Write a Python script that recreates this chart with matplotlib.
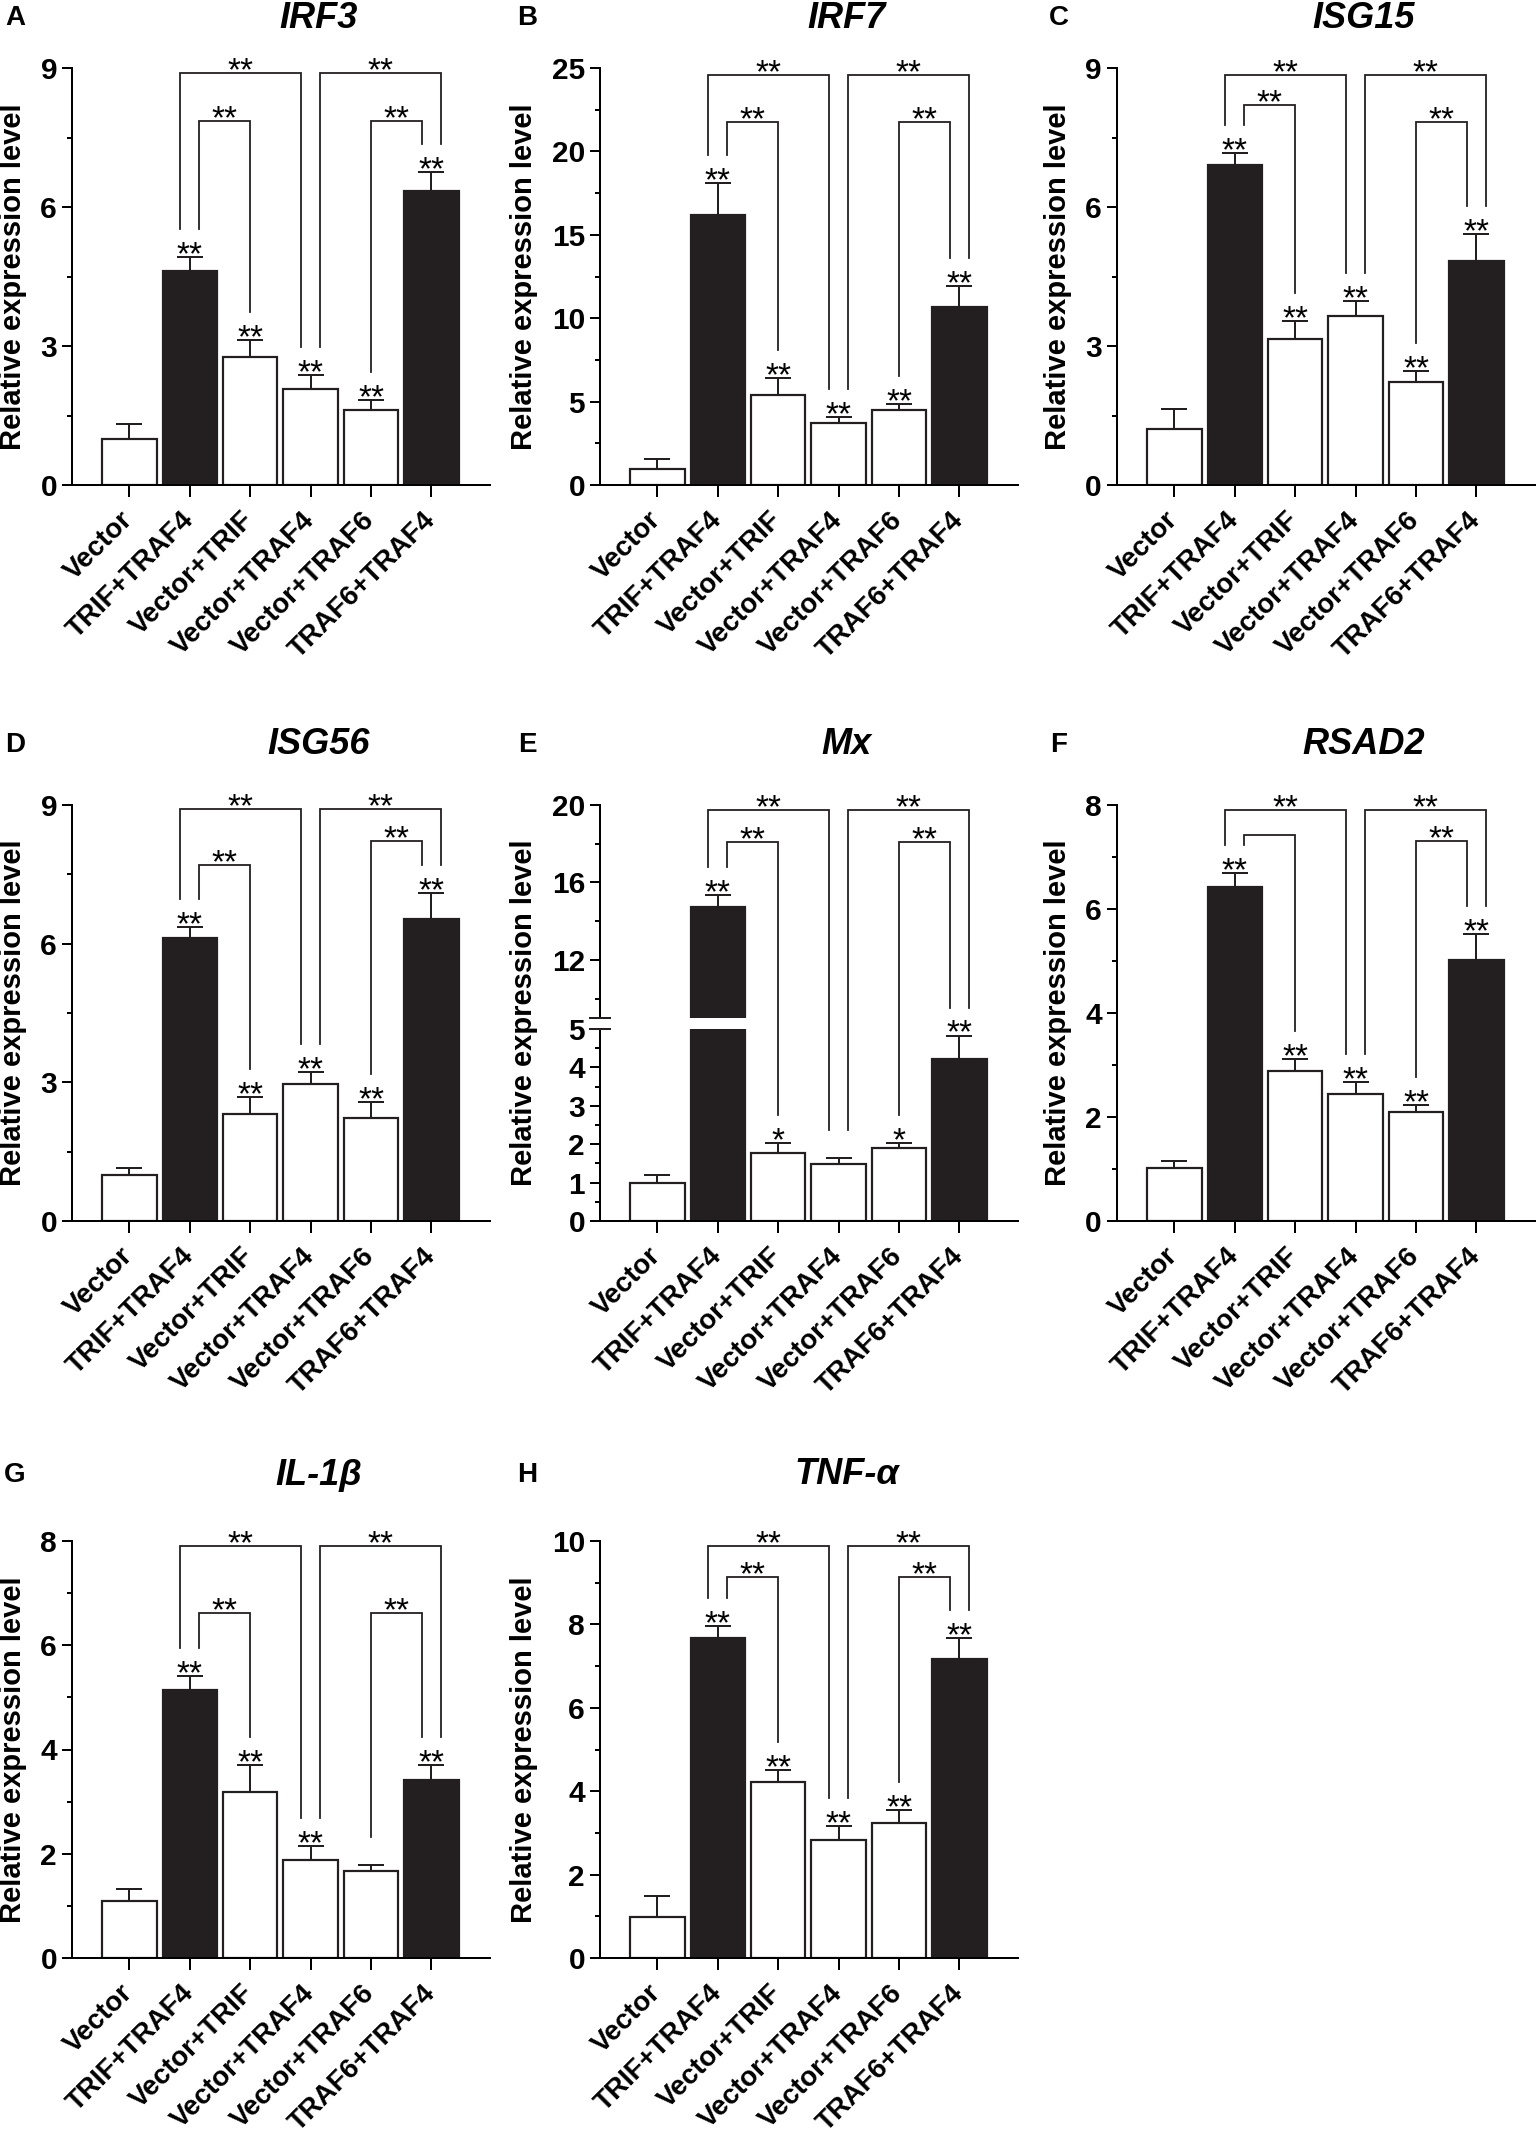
import numpy as np
import matplotlib
matplotlib.use('Agg')
import matplotlib.pyplot as plt
from matplotlib.transforms import blended_transform_factory, IdentityTransform, ScaledTranslation
from matplotlib.lines import Line2D
from matplotlib.ticker import MultipleLocator, FixedLocator
from matplotlib.textpath import TextPath
from matplotlib.font_manager import FontProperties

plt.rcParams['font.family'] = ['Liberation Sans', 'DejaVu Sans']

# ---------------- data ----------------
categories = ['Vector', 'TRIF+TRAF4', 'Vector+TRIF', 'Vector+TRAF4', 'Vector+TRAF6', 'TRAF6+TRAF4']

irf3_mean = [1.00, 4.62, 2.76, 2.07, 1.62, 6.35]
irf3_err = [0.32, 0.30, 0.36, 0.30, 0.21, 0.41]
irf3_stars = ['', '**', '**', '**', '**', '**']
irf3_levels = [8.89, 7.85, 7.85]          # outer, inner-left, inner-right bracket heights
irf3_blabels = ['**', '**', '**', '**']    # outer-left, outer-right, inner-left, inner-right

irf7_mean = [0.95, 16.2, 5.4, 3.7, 4.5, 10.7]
irf7_err = [0.6, 1.9, 1.0, 0.35, 0.35, 1.25]
irf7_stars = ['', '**', '**', '**', '**', '**']
irf7_levels = [24.58, 21.74, 21.74]
irf7_blabels = ['**', '**', '**', '**']

isg15_mean = [1.21, 6.90, 3.16, 3.65, 2.22, 4.84]
isg15_err = [0.44, 0.26, 0.38, 0.32, 0.25, 0.57]
isg15_stars = ['', '**', '**', '**', '**', '**']
isg15_levels = [8.85, 8.20, 7.83]
isg15_blabels = ['**', '**', '**', '**']

isg56_mean = [1.00, 6.12, 2.31, 2.97, 2.22, 6.54]
isg56_err = [0.14, 0.24, 0.37, 0.25, 0.36, 0.55]
isg56_stars = ['', '**', '**', '**', '**', '**']
isg56_levels = [8.92, 7.71, 8.23]
isg56_blabels = ['**', '**', '**', '**']

mx_mean = [1.00, 14.75, 1.78, 1.49, 1.89, 4.23]
mx_err = [0.19, 0.62, 0.24, 0.14, 0.13, 0.60]
mx_stars = ['', '**', '*', '', '*', '**']
mx_levels = [19.72, 18.10, 18.10]
mx_blabels = ['**', '**', '**', '**']

rsad2_mean = [1.02, 6.42, 2.89, 2.45, 2.09, 5.01]
rsad2_err = [0.13, 0.28, 0.23, 0.23, 0.14, 0.51]
rsad2_stars = ['', '**', '**', '**', '**', '**']
rsad2_levels = [7.91, 7.43, 7.30]
rsad2_blabels = ['**', '**', '', '**']

il1b_mean = [1.10, 5.14, 3.19, 1.88, 1.67, 3.42]
il1b_err = [0.22, 0.27, 0.51, 0.26, 0.12, 0.28]
il1b_stars = ['', '**', '**', '**', '', '**']
il1b_levels = [7.91, 6.62, 6.62]
il1b_blabels = ['**', '**', '**', '**']

tnfa_mean = [0.99, 7.68, 4.22, 2.84, 3.23, 7.16]
tnfa_err = [0.49, 0.29, 0.29, 0.32, 0.33, 0.51]
tnfa_stars = ['', '**', '**', '**', '**', '**']
tnfa_levels = [9.88, 9.14, 9.14]
tnfa_blabels = ['**', '**', '**', '**']

# ---------------- style / layout ----------------
W, H = 1536, 2137
DPI = 100
fig = plt.figure(figsize=(W / DPI, H / DPI), dpi=DPI)

BLACK = '#231f20'
fills = ['white', BLACK, 'white', 'white', 'white', BLACK]
x = np.arange(len(categories))

col_left = [72, 600, 1117]
ax_w = 418
row_tb = [(68, 485), (805, 1221), (1541, 1958)]
row_title_y = [18, 745, 1475]
letter_x = [15, 527, 1059]

PT = 72.0 / DPI  # points per pixel

STAR_FS = 24
_star_ext = TextPath((0, 0), '*', size=STAR_FS / PT,
                     prop=FontProperties(family='Liberation Sans')).get_extents()
STAR_YMIN = _star_ext.y0   # px from baseline to bottom of asterisk glyph
STAR_GAP = 4               # px between line and bottom of asterisk
LEG_GAP = 28               # px above error-bar top where bracket legs end
OFF = 0.16


def fxy(px, py):
    return px / W, 1 - py / H


def new_axes(left, top, bottom):
    l, b = fxy(left, bottom)
    return fig.add_axes([l, b, ax_w / W, (bottom - top) / H])


def style_axes(ax, show_bottom=True):
    for s in ['top', 'right']:
        ax.spines[s].set_visible(False)
    ax.spines['left'].set_linewidth(2.0 * PT)
    ax.spines['bottom'].set_linewidth(2.0 * PT)
    if not show_bottom:
        ax.spines['bottom'].set_visible(False)
    ax.tick_params(axis='y', which='major', length=10 * PT, width=2 * PT, pad=5 * PT,
                   labelsize=21.5, direction='out')
    ax.tick_params(axis='y', which='minor', length=5 * PT, width=2 * PT, direction='out')
    ax.tick_params(axis='x', which='major', length=12 * PT, width=2 * PT, direction='out',
                   labelsize=20, pad=19 * PT)
    for lab in ax.get_yticklabels():
        lab.set_fontweight('bold')
    ax.set_xlim(-0.95, 5.97)


def draw_bars(ax, mean, err):
    ax.bar(x, mean, width=0.9, color=fills, edgecolor=BLACK, linewidth=2.2 * PT, zorder=2)
    ax.errorbar(x, mean, yerr=[np.zeros(len(mean)), err], fmt='none', ecolor=BLACK,
                elinewidth=2.0 * PT, capsize=13.5 * PT, capthick=2.0 * PT, zorder=3)


def set_xlabels(ax):
    ax.set_xticks(x)
    ax.set_xticklabels(categories, rotation=45, ha='right', va='center',
                       rotation_mode='anchor', fontweight='bold', fontsize=20.5)
    shift = ScaledTranslation(6 / DPI, 0, fig.dpi_scale_trans)
    for lab in ax.get_xticklabels():
        lab.set_transform(lab.get_transform() + shift)


def disp_y(segs, v):
    for ax, lo, hi in segs:
        if lo <= v <= hi:
            return ax.transData.transform((0, v))[1]
    ax, lo, hi = segs[-1]
    return ax.transData.transform((0, v))[1]


def annotate(host, segs, mean, err, stars, levels, blabels):
    tr = blended_transform_factory(host.transData, IdentityTransform())
    tops = [disp_y(segs, m + e) for m, e in zip(mean, err)]
    for i, s in enumerate(stars):
        if s:
            host.text(x[i], tops[i] + STAR_GAP - STAR_YMIN, s, transform=tr, ha='center',
                      va='baseline', fontsize=STAR_FS, clip_on=False, zorder=5)
    specs = [(1, -OFF, 3, -OFF, 0, blabels[0]),
             (3, OFF, 5, OFF, 0, blabels[1]),
             (1, OFF, 2, 0.0, 1, blabels[2]),
             (4, 0.0, 5, -OFF, 2, blabels[3])]
    for i, oi, j, oj, lev, lab in specs:
        ytop = disp_y(segs, levels[lev])
        xa, xb = x[i] + oi, x[j] + oj
        host.plot([xa, xa, xb, xb], [tops[i] + LEG_GAP, ytop, ytop, tops[j] + LEG_GAP],
                  transform=tr, color=BLACK, lw=1.8 * PT, clip_on=False, zorder=4,
                  solid_joinstyle='miter')
        if lab:
            host.text((xa + xb) / 2, ytop + STAR_GAP - STAR_YMIN, lab, transform=tr,
                      ha='center', va='baseline', fontsize=STAR_FS, clip_on=False, zorder=5)


def decorate(col, row, letter, title, two_digit):
    left = col_left[col]
    top, bottom = row_tb[row]
    tx, ty = fxy(left + 0.59 * ax_w, row_title_y[row])
    fig.text(tx, ty, title, fontsize=26, fontweight='bold', fontstyle='italic',
             ha='center', va='center')
    lx, ly = fxy(letter_x[col], row_title_y[row])
    fig.text(lx, ly, letter, fontsize=20, fontweight='bold', ha='center', va='center')
    yx, yy = fxy(left - (76 if two_digit else 59), (top + bottom) / 2)
    fig.text(yx, yy, 'Relative expression level', rotation=90, fontsize=21,
             fontweight='bold', ha='center', va='center')


def simple_panel(col, row, letter, title, mean, err, stars, levels, blabels,
                 ymax, major, minor):
    top, bottom = row_tb[row]
    ax = new_axes(col_left[col], top, bottom)
    draw_bars(ax, mean, err)
    ax.set_ylim(0, ymax)
    ax.yaxis.set_major_locator(MultipleLocator(major))
    ax.yaxis.set_minor_locator(MultipleLocator(minor))
    set_xlabels(ax)
    style_axes(ax)
    annotate(ax, [(ax, 0, ymax)], mean, err, stars, levels, blabels)
    decorate(col, row, letter, title, ymax >= 10)
    return ax


simple_panel(0, 0, 'A', 'IRF3', irf3_mean, irf3_err, irf3_stars, irf3_levels, irf3_blabels, 9, 3, 1.5)
simple_panel(1, 0, 'B', 'IRF7', irf7_mean, irf7_err, irf7_stars, irf7_levels, irf7_blabels, 25, 5, 2.5)
simple_panel(2, 0, 'C', 'ISG15', isg15_mean, isg15_err, isg15_stars, isg15_levels, isg15_blabels, 9, 3, 1.5)
simple_panel(0, 1, 'D', 'ISG56', isg56_mean, isg56_err, isg56_stars, isg56_levels, isg56_blabels, 9, 3, 1.5)
simple_panel(2, 1, 'F', 'RSAD2', rsad2_mean, rsad2_err, rsad2_stars, rsad2_levels, rsad2_blabels, 8, 2, 1)
simple_panel(0, 2, 'G', 'IL-1β', il1b_mean, il1b_err, il1b_stars, il1b_levels, il1b_blabels, 8, 2, 1)
simple_panel(1, 2, 'H', 'TNF-α', tnfa_mean, tnfa_err, tnfa_stars, tnfa_levels, tnfa_blabels, 10, 2, 1)

# ---------------- panel E (broken axis) ----------------
e_left = col_left[1]
e_top, e_bottom = row_tb[1]
up_bottom = 1018
low_top = 1029
ax_lo = new_axes(e_left, low_top, e_bottom)
ax_up = new_axes(e_left, e_top, up_bottom)
ax_up.set_zorder(ax_lo.get_zorder() + 1)
ax_up.patch.set_visible(False)
for a in (ax_up, ax_lo):
    draw_bars(a, mx_mean, mx_err)
ax_up.set_ylim(9, 20)
ax_lo.set_ylim(0, 5)
ax_up.yaxis.set_major_locator(FixedLocator([12, 16, 20]))
ax_up.yaxis.set_minor_locator(FixedLocator([10, 14, 18]))
ax_lo.yaxis.set_major_locator(MultipleLocator(1))
ax_lo.yaxis.set_minor_locator(MultipleLocator(0.5))
ax_up.set_xticks([])
set_xlabels(ax_lo)
style_axes(ax_up, show_bottom=False)
style_axes(ax_lo)
ax_up.tick_params(axis='x', length=0)
ax_lo.spines['top'].set_visible(False)
for py in (up_bottom, low_top):
    fig.add_artist(Line2D([e_left - 10, e_left + 10], [H - py, H - py],
                          transform=IdentityTransform(), color=BLACK, lw=2.0 * PT))
annotate(ax_up, [(ax_lo, 0, 5), (ax_up, 9, 20)], mx_mean, mx_err, mx_stars, mx_levels, mx_blabels)
decorate(1, 1, 'E', 'Mx', True)

fig.savefig('out.png', dpi=DPI, facecolor='white')
